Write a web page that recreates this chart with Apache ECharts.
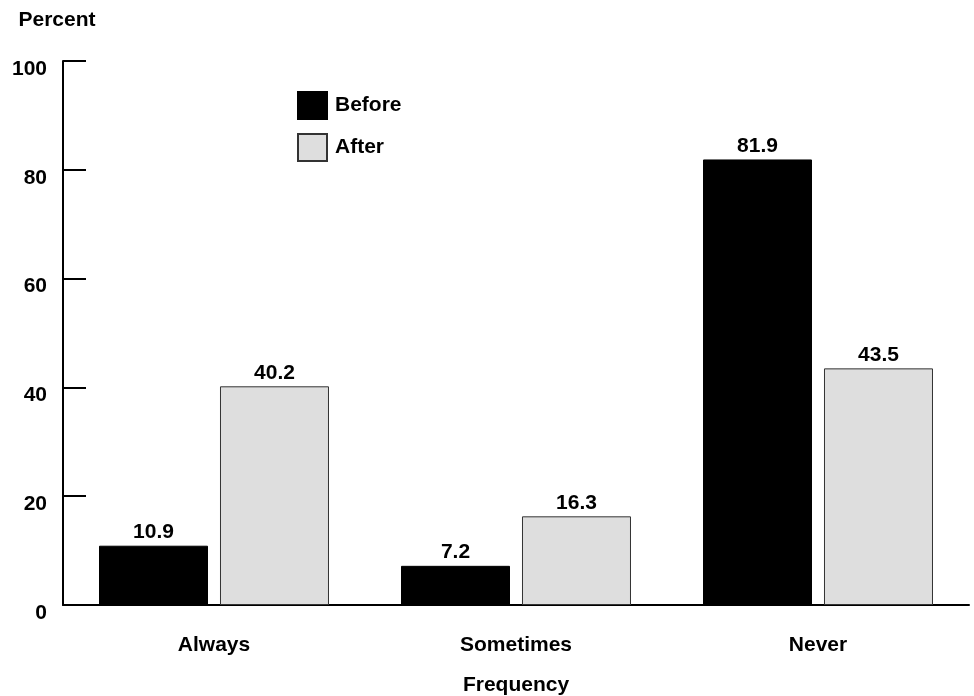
<!DOCTYPE html>
<html>
<head>
<meta charset="utf-8">
<script src="https://cdn.jsdelivr.net/npm/echarts@6/dist/echarts.min.js"></script>
<style>html,body{margin:0;padding:0;background:#fff;}#c{width:974px;height:696px;}</style>
</head>
<body>
<div id="c"></div>
<script>
const categories = ['Always', 'Sometimes', 'Never'];
const beforeValues = [10.9, 7.2, 81.9];
const afterValues = [40.2, 16.3, 43.5];
const yTicks = [0, 20, 40, 60, 80, 100];

const FONT = 'Liberation Sans, Arial, sans-serif';
const chart = echarts.init(document.getElementById('c'));
const labelStyle = {
  show: true, position: 'top', distance: 3,
  color: '#000', fontFamily: FONT, fontWeight: 'bold', fontSize: 21,
  formatter: p => p.value.toFixed(1)
};
chart.setOption({
  animation: false,
  backgroundColor: '#fff',
  grid: { left: 63, right: 5, top: 61, bottom: 91, containLabel: false, outerBoundsMode: 'none' },
  legend: {
    orient: 'vertical', left: 297, top: 91, padding: 0,
    itemWidth: 29, itemHeight: 27, itemGap: 13,
    textStyle: { color: '#000', fontFamily: FONT, fontWeight: 'bold', fontSize: 21, padding: [0, 0, 0, 3] },
    data: [
      { name: 'Before', icon: 'rect' },
      { name: 'After', icon: 'rect' }
    ]
  },
  xAxis: {
    type: 'category', data: categories,
    name: 'Frequency', nameLocation: 'middle', nameGap: 70,
    nameTextStyle: { color: '#000', fontFamily: FONT, fontWeight: 'bold', fontSize: 21 },
    axisLine: { lineStyle: { color: '#000', width: 2 } },
    axisTick: { inside: true, length: 14, lineStyle: { color: '#000', width: 2 } },
    axisLabel: { color: '#000', fontFamily: FONT, fontWeight: 'bold', fontSize: 21, margin: 30 },
    splitLine: { show: false }
  },
  yAxis: {
    type: 'value', min: 0, max: 100, interval: 20,
    name: 'Percent', nameLocation: 'end', nameGap: 30,
    nameTextStyle: { color: '#000', fontFamily: FONT, fontWeight: 'bold', fontSize: 21, padding: [0, 12, 0, 0] },
    axisLine: { show: true, lineStyle: { color: '#000', width: 2 } },
    axisTick: { show: true, inside: true, length: 23, lineStyle: { color: '#000', width: 2 } },
    axisLabel: {
      color: '#000', fontFamily: FONT, fontWeight: 'bold', fontSize: 21, margin: 16,
      verticalAlign: 'top', lineHeight: 16,
      formatter: v => yTicks.includes(v) ? String(v) : ''
    },
    splitLine: { show: false }
  },
  series: [
    {
      name: 'Before', type: 'bar', data: beforeValues,
      barWidth: 109, barGap: '11%',
      itemStyle: { color: '#000', borderColor: '#000', borderWidth: 1 },
      label: labelStyle
    },
    {
      name: 'After', type: 'bar', data: afterValues,
      barWidth: 109,
      itemStyle: { color: '#dedede', borderColor: '#333', borderWidth: 1 },
      label: labelStyle
    }
  ]
});
</script>
</body>
</html>
